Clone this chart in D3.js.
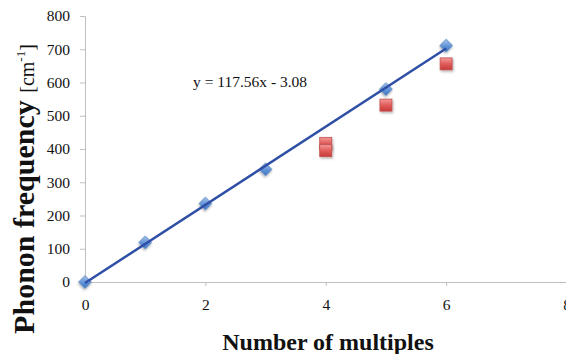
<!DOCTYPE html>
<html><head><meta charset="utf-8">
<script src="https://cdn.jsdelivr.net/npm/d3@7"></script>
<style>body{margin:0;background:#fff}svg{display:block}text{font-family:"Liberation Serif","Times New Roman",serif}</style>
</head><body><svg id="c" width="566" height="354"></svg>
<script>
const blueX = [0, 1, 2, 3, 5, 6];
const blueY = [0, 119, 236, 339, 580, 711];
const redX = [4, 4, 5, 6];
const redY = [417, 395, 532, 656];
const xTicks = [0, 2, 4, 6, 8];
const yTicks = [0, 100, 200, 300, 400, 500, 600, 700, 800];
const slope = 117.56, intercept = -3.08;
const eqLabel = "y = 117.56x - 3.08";

const svg = d3.select("#c");
const x = d3.scaleLinear().domain([0, 8]).range([85, 566.5]);
const y = d3.scaleLinear().domain([0, 800]).range([282, 16]);

const defs = svg.append("defs");
const gb = defs.append("linearGradient").attr("id","gb").attr("x1",0).attr("y1",0).attr("x2",1).attr("y2",1);
gb.append("stop").attr("offset","0%").attr("stop-color","#a9c4ea");
gb.append("stop").attr("offset","60%").attr("stop-color","#5b8fd6");
gb.append("stop").attr("offset","100%").attr("stop-color","#3f74c4");
const gr = defs.append("linearGradient").attr("id","gr").attr("x1",0).attr("y1",0).attr("x2",0).attr("y2",1);
gr.append("stop").attr("offset","0%").attr("stop-color","#f49a98");
gr.append("stop").attr("offset","50%").attr("stop-color","#e05d5b");
gr.append("stop").attr("offset","100%").attr("stop-color","#c73a38");
const sh = defs.append("filter").attr("id","sh").attr("x","-50%").attr("y","-50%").attr("width","200%").attr("height","200%");
sh.append("feDropShadow").attr("dx",1).attr("dy",1.5).attr("stdDeviation",1).attr("flood-color","#000").attr("flood-opacity",0.3);

// axes
const ya = svg.append("g").attr("transform","translate(85,0)")
  .call(d3.axisLeft(y).tickValues(yTicks).tickSize(5).tickPadding(10).tickFormat(d3.format("d")));
const xa = svg.append("g").attr("transform","translate(0,282)")
  .call(d3.axisBottom(x).tickValues(xTicks).tickSize(4).tickPadding(13).tickFormat(d3.format("d")));
[ya, xa].forEach(a => {
  a.attr("font-family", null);
  a.select(".domain").attr("stroke","#bfbfbf");
  a.selectAll(".tick line").attr("stroke","#bfbfbf");
  a.selectAll("text").attr("font-size",15.5).attr("fill","#111").style("font-family","'Liberation Serif',serif");
});

// red squares
svg.append("g").selectAll("rect").data(redX.map((d,i)=>[d,redY[i]])).join("rect")
  .attr("x", d => x(d[0]) - 6).attr("y", d => y(d[1]) - 6)
  .attr("width", 12).attr("height", 12)
  .attr("fill","url(#gr)").attr("stroke","#c0504d").attr("stroke-width",0.8)
  .attr("filter","url(#sh)");

// blue diamonds
svg.append("g").selectAll("path").data(blueX.map((d,i)=>[d,blueY[i]])).join("path")
  .attr("d", d3.symbol().type(d3.symbolSquare).size(80))
  .attr("transform", d => `translate(${x(d[0])},${y(d[1])}) rotate(45)`)
  .attr("fill","url(#gb)").attr("stroke","#4a7ebb").attr("stroke-width",0.6)
  .attr("filter","url(#sh)");

// trendline
svg.append("line")
  .attr("x1", x(0)).attr("y1", y(intercept))
  .attr("x2", x(6)).attr("y2", y(slope*6+intercept))
  .attr("stroke","#2f4fa6").attr("stroke-width",2.5);

svg.append("text").attr("x",193).attr("y",87).attr("font-size",15.5).attr("fill","#111").text(eqLabel);

// titles
const yt = svg.append("text").attr("transform","translate(34,189) rotate(-90)")
  .attr("text-anchor","middle").attr("fill","#111");
yt.append("tspan").attr("font-size",30).attr("font-weight","bold").text("Phonon frequency ");
yt.append("tspan").attr("font-size",20).text("[cm");
yt.append("tspan").attr("font-size",13).attr("dy",-9).text("-1");
yt.append("tspan").attr("font-size",20).attr("dy",9).text("]");

svg.append("text").attr("x",328).attr("y",350).attr("text-anchor","middle")
  .attr("font-size",24).attr("font-weight","bold").attr("fill","#111").text("Number of multiples");
</script></body></html>
